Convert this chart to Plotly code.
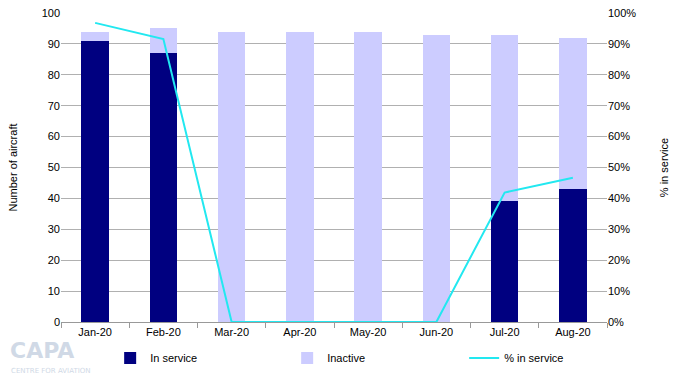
import plotly.graph_objects as go

months = ["Jan-20", "Feb-20", "Mar-20", "Apr-20", "May-20", "Jun-20", "Jul-20", "Aug-20"]
in_service = [91, 87, 0, 0, 0, 0, 39, 43]
inactive = [3, 8, 94, 94, 94, 93, 54, 49]
pct_in_service = [96.8, 91.6, 0, 0, 0, 0, 41.9, 46.7]

FONT = "Liberation Sans, Arial, sans-serif"

fig = go.Figure()
fig.add_trace(go.Bar(x=months, y=in_service, name="In service", marker_color="#000080",
                     marker_line_width=0, yaxis="y"))
fig.add_trace(go.Bar(x=months, y=inactive, name="Inactive", marker_color="#CCCCFF",
                     marker_line_width=0, yaxis="y"))
fig.add_trace(go.Scatter(x=months, y=pct_in_service, name="% in service", mode="lines",
                         line=dict(color="#22E8F0", width=2), yaxis="y2", cliponaxis=False))

fig.update_layout(
    width=680, height=376,
    margin=dict(l=61, r=73, t=13, b=54, autoexpand=False),
    paper_bgcolor="white", plot_bgcolor="white",
    barmode="stack", bargap=0.6,
    font=dict(family=FONT, size=11, color="#000000"),
    showlegend=True,
    legend=dict(orientation="h", xref="container", yref="container",
                x=0.162, y=0.048, xanchor="left", yanchor="middle",
                entrywidth=132, entrywidthmode="pixels",
                font=dict(family=FONT, size=11), traceorder="normal"),
    xaxis=dict(type="category", showgrid=False, showline=True, linecolor="#999999",
               linewidth=1, ticks="outside", tickson="boundaries", ticklen=5,
               tickcolor="#999999", tickfont=dict(size=11)),
    yaxis=dict(range=[0, 100], dtick=10, showgrid=True, gridcolor="#B0B0B0", gridwidth=1,
               zeroline=False, showline=False, ticks="",
               title=dict(text="Number of aircraft", standoff=21, font=dict(size=11)),
               tickfont=dict(size=11)),
    yaxis2=dict(range=[0, 100], dtick=10, overlaying="y", side="right", showgrid=False,
                zeroline=False, showline=False, ticksuffix="%",
                title=dict(text="% in service", standoff=24, font=dict(size=11)),
                tickfont=dict(size=11)),
)

fig.add_annotation(text="<b>CAPA</b>", xref="paper", yref="paper", x=-0.097, y=-0.045,
                   xanchor="left", yanchor="top", showarrow=False,
                   font=dict(family="DejaVu Sans, sans-serif", size=22, color="#D0D9E6"))
fig.add_annotation(text="CENTRE FOR AVIATION", xref="paper", yref="paper", x=-0.095,
                   y=-0.138, xanchor="left", yanchor="top", showarrow=False,
                   font=dict(family="DejaVu Sans, sans-serif", size=7, color="#D0D9E6"))

fig.write_html("out.html", post_script="document.body.style.margin='0';",
               config={"displayModeBar": False})
